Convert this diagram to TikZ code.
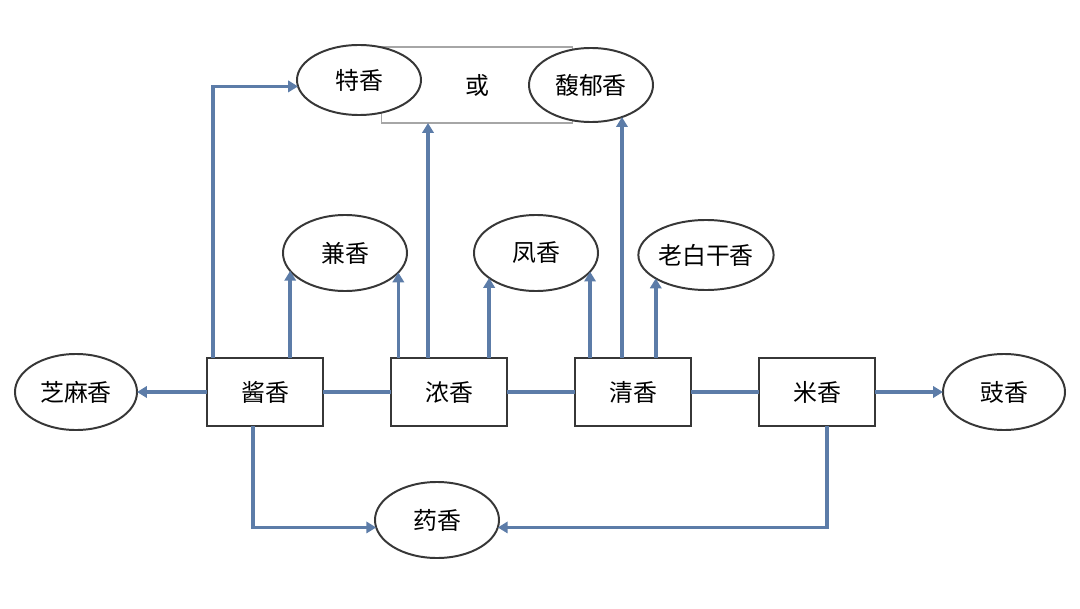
\documentclass[tikz,border=0pt]{standalone}
\usepackage{fontspec}
\newfontfamily\cjk{Noto Sans CJK SC}
\usetikzlibrary{shapes.geometric,arrows.meta,calc}

\definecolor{azulflecha}{RGB}{92,124,168}
\definecolor{borde}{RGB}{55,55,55}

\begin{document}
\begin{tikzpicture}[x=0.025cm,y=0.025cm,
    every node/.style={font=\cjk\fontsize{17}{19}\selectfont},
    caja/.style={draw=borde,line width=1.5pt,fill=white,minimum width=2.9cm,minimum height=1.7cm,inner sep=0pt,outer sep=0pt},
    ovalo/.style={ellipse,draw=borde,line width=1.4pt,fill=white,minimum width=3.1cm,minimum height=1.9cm,inner sep=0pt,outer sep=0pt},
    marco/.style={draw=gray!70,line width=0.8pt,minimum width=4.78cm,minimum height=1.9cm,inner sep=0pt,outer sep=0pt},
    linea/.style={draw=azulflecha,line width=2.5pt},
    flechaest/.style={linea,-{Triangle[length=7pt,width=8pt]}}]

    \useasboundingbox (0,0) rectangle (1080,608);

    % Recuadro con "o"
    \node[marco] (huo) at (477,523) {或};

    % Óvalos de arriba
    \node[ovalo,minimum height=1.75cm] (texiang) at (359,528) {特香};
    \node[ovalo,minimum height=1.85cm] (fuyu) at (591,523) {馥郁香};

    % Óvalos del medio
    \node[ovalo] (jianx) at (345,355) {兼香};
    \node[ovalo] (feng) at (536,355) {凤香};
    \node[ovalo,minimum width=3.15cm,minimum height=1.75cm] (laobai) at (706,353) {老白干香};

    % Cajas principales
    \node[caja] (jiang) at (265,216) {酱香};
    \node[caja] (nong) at (449,216) {浓香};
    \node[caja] (qing) at (633,216) {清香};
    \node[caja] (mi) at (817,216) {米香};

    % Óvalos laterales y de abajo
    \node[ovalo,minimum width=3.05cm] (zhima) at (76,216) {芝麻香};
    \node[ovalo,minimum width=3.05cm] (chi) at (1004,216) {豉香};
    \node[ovalo] (yao) at (437,88) {药香};

    % Líneas entre cajas
    \draw[linea] (jiang.east) -- (nong.west);
    \draw[linea] (nong.east) -- (qing.west);
    \draw[linea] (qing.east) -- (mi.west);

    % Flechas hacia los lados
    \draw[flechaest] (jiang.west) -- (zhima.east);
    \draw[flechaest] (mi.east) -- (chi.west);

    % Flechas hacia arriba
    \draw[flechaest] ($(jiang.north)+(-52,0)$) |- (texiang.186);
    \draw[flechaest] (jianx.198 |- jiang.north) -- (jianx.198);
    \draw[flechaest] (jianx.340 |- nong.north) -- (jianx.340);
    \coordinate (n1) at ($(nong.north)+(-21,0)$);
    \draw[flechaest] (n1) -- (n1 |- huo.south);
    \draw[flechaest] (feng.208 |- nong.north) -- (feng.208);
    \draw[flechaest] (feng.341 |- qing.north) -- (feng.341);
    \draw[flechaest] (fuyu.314 |- qing.north) -- (fuyu.314);
    \draw[flechaest] (laobai.205 |- qing.north) -- (laobai.205);

    % Flechas hacia abajo
    \draw[flechaest] ($(jiang.south)+(-12,0)$) |- (yao.187);
    \draw[flechaest] ($(mi.south)+(10,0)$) |- (yao.353);
\end{tikzpicture}
\end{document}
